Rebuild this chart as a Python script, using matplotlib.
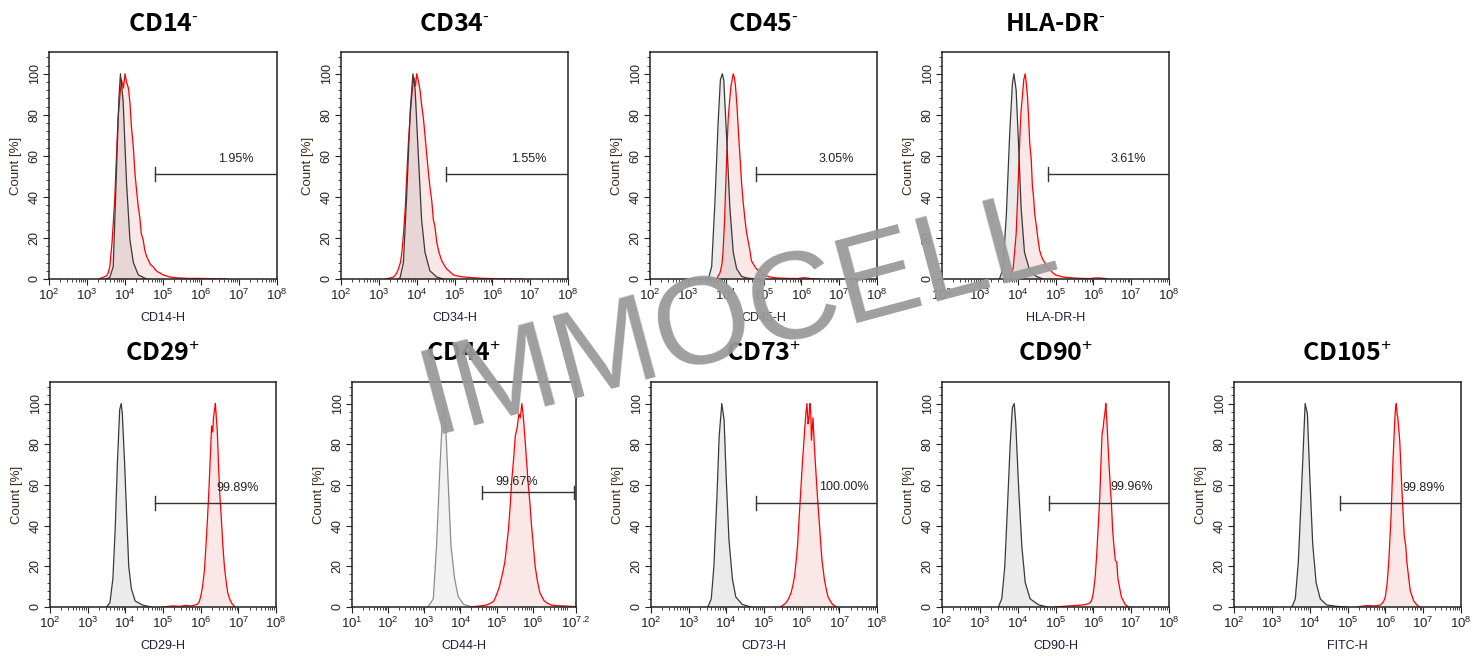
import numpy as np
import matplotlib
matplotlib.use('Agg')
import matplotlib.pyplot as plt

plt.rcParams['font.family'] = ['Liberation Sans', 'DejaVu Sans']
plt.rcParams['mathtext.fontset'] = 'custom'
plt.rcParams['mathtext.rm'] = 'Liberation Sans'
plt.rcParams['mathtext.it'] = 'Liberation Sans'
plt.rcParams['mathtext.bf'] = 'Liberation Sans:bold'

# ---------------------------------------------------------------- data
# x values are log10 of the fluorescence channel, y values are Count [%]
titles = [r'CD14$^{\text{-}}$', r'CD34$^{\text{-}}$', r'CD45$^{\text{-}}$', r'HLA-DR$^{\text{-}}$',
          'CD29$^{+}$', 'CD44$^{+}$', 'CD73$^{+}$', 'CD90$^{+}$', 'CD105$^{+}$']
xlabels = ['CD14-H', 'CD34-H', 'CD45-H', 'HLA-DR-H',
           'CD29-H', 'CD44-H', 'CD73-H', 'CD90-H', 'FITC-H']
pct_labels = ['1.95%', '1.55%', '3.05%', '3.61%',
              '99.89%', '99.67%', '100.00%', '99.96%', '99.89%']
gate_start = [4.8, 4.77, 4.81, 4.8, 4.79, 4.59, 4.79, 4.82, 4.8]
gate_level = [51, 51, 51, 51, 51, 56.3, 51, 51, 51]
pct_x = [6.91, 6.95, 6.92, 6.93, 6.99, 5.55, 7.11, 7.02, 7.0]
pct_y = [58.5, 58.5, 58.5, 58.5, 58.4, 61.5, 58.9, 58.9, 58.3]

cd14_ctrl_x = [3.50, 3.60, 3.69, 3.78, 3.84, 3.88, 3.95, 4.04, 4.13, 4.22, 4.35, 4.57]
cd14_ctrl_y = [0, 0.8, 6, 55, 88, 100, 87, 47, 19, 8, 2, 0]
cd14_stain_x = [3.30, 3.42, 3.51, 3.56, 3.60, 3.66, 3.73, 3.78, 3.82, 3.87, 3.91, 3.96, 4.00, 4.04,
                4.09, 4.13, 4.17, 4.22, 4.26, 4.30, 4.35, 4.39, 4.43, 4.48, 4.52, 4.57, 4.62, 4.67,
                4.74, 4.80, 4.86, 4.92, 5.00, 5.08, 5.18, 5.35, 5.62, 5.90, 6.20, 6.40, 6.70]
cd14_stain_y = [0, 0.8, 1.5, 3, 6, 18, 39, 62, 79, 90, 97, 93, 100, 96,
                93, 86, 74, 64, 52, 44, 35, 30, 22, 19, 14, 11, 9, 7,
                6, 4.5, 3.5, 3, 2, 1.6, 1, 0.6, 0.3, 0.3, 0.2, 0.1, 0]

cd34_ctrl_x = [3.50, 3.56, 3.65, 3.74, 3.83, 3.90, 3.96, 4.05, 4.13, 4.22, 4.35, 4.53, 4.70]
cd34_ctrl_y = [0, 0.5, 8, 42, 82, 100, 92, 58, 29, 13, 4, 1, 0]
cd34_stain_x = [3.17, 3.30, 3.39, 3.46, 3.52, 3.57, 3.61, 3.66, 3.70, 3.74, 3.78, 3.83, 3.87, 3.90,
                3.93, 3.97, 4.00, 4.04, 4.09, 4.13, 4.18, 4.22, 4.27, 4.31, 4.35, 4.40, 4.44, 4.48,
                4.53, 4.59, 4.66, 4.72, 4.79, 4.88, 4.97, 5.10, 5.23, 5.50, 5.76, 6.20, 6.80]
cd34_stain_y = [0, 0.5, 1, 2.5, 5, 8, 13, 24, 35, 51, 66, 80, 89, 95,
                98, 94, 100, 97, 92, 85, 78, 70, 60, 52, 45, 38, 29, 26,
                18, 13, 9, 7, 5, 3.5, 2, 1.4, 1, 0.6, 0.3, 0.15, 0]

cd45_ctrl_x = [3.54, 3.63, 3.72, 3.80, 3.86, 3.91, 3.95, 4.02, 4.11, 4.20, 4.29, 4.42, 4.55, 4.80]
cd45_ctrl_y = [0, 6, 39, 76, 97, 100, 97, 71, 35, 13, 5, 1.3, 0.5, 0]
cd45_stain_x = [3.76, 3.85, 3.90, 3.93, 3.97, 4.00, 4.04, 4.07, 4.11, 4.14, 4.17, 4.20, 4.23, 4.26,
                4.30, 4.33, 4.37, 4.42, 4.46, 4.51, 4.55, 4.60, 4.64, 4.68, 4.74, 4.81, 4.88, 4.92,
                4.99, 5.08, 5.17, 5.35, 5.61, 5.90, 6.05, 6.13, 6.22, 6.35, 6.49]
cd45_stain_y = [0, 3, 7, 13, 28, 45, 66, 79, 88, 94, 97, 100, 98, 94,
                84, 74, 62, 47, 38, 29, 23, 18, 14, 9, 7, 5, 4, 4.5,
                2, 1.5, 1, 0.5, 0.3, 0.2, 0.6, 0.5, 0.3, 0.1, 0]

hla_ctrl_x = [3.52, 3.61, 3.70, 3.79, 3.86, 3.90, 3.96, 4.03, 4.09, 4.18, 4.32, 4.49, 4.67]
hla_ctrl_y = [0, 5, 31, 71, 95, 100, 92, 63, 35, 13, 4, 1.3, 0]
hla_stain_x = [3.79, 3.88, 3.96, 4.00, 4.03, 4.06, 4.09, 4.13, 4.16, 4.20, 4.23, 4.26, 4.29, 4.32,
               4.36, 4.39, 4.42, 4.45, 4.50, 4.54, 4.58, 4.63, 4.68, 4.72, 4.76, 4.82, 4.88, 4.93,
               5.00, 5.10, 5.19, 5.40, 5.64, 5.90, 6.05, 6.17, 6.28, 6.39]
hla_stain_y = [0, 5, 22, 40, 55, 70, 82, 90, 97, 100, 95, 89, 78, 66,
               58, 45, 40, 32, 25, 19, 14, 11, 9, 8, 6, 5, 4, 3,
               2, 1.5, 1, 0.6, 0.3, 0.2, 0.5, 0.5, 0.3, 0]

cd29_ctrl_x = [3.50, 3.59, 3.67, 3.73, 3.79, 3.85, 3.89, 3.92, 3.98, 4.04, 4.09, 4.16, 4.26, 4.45, 4.68]
cd29_ctrl_y = [0, 2, 14, 38, 71, 97, 100, 95, 71, 43, 20, 9, 3, 1, 0]
cd29_stain_x = [4.97, 5.25, 5.45, 5.60, 5.73, 5.85, 5.91, 5.96, 6.00, 6.05, 6.10, 6.14, 6.18, 6.22,
                6.25, 6.29, 6.32, 6.34, 6.37, 6.39, 6.42, 6.44, 6.48, 6.51, 6.55, 6.59, 6.63, 6.68,
                6.72, 6.77, 6.82, 6.91]
cd29_stain_y = [0, 0.5, 0.3, 0.8, 0.5, 1.0, 1.3, 2.5, 5, 10, 18, 30, 43, 58,
                71, 89, 86, 93, 97, 100, 92, 87, 67, 55, 43, 30, 20, 12,
                7, 4, 2, 0]

cd44_ctrl_x = [3.10, 3.25, 3.34, 3.44, 3.50, 3.54, 3.59, 3.66, 3.74, 3.84, 3.94, 4.09, 4.33]
cd44_ctrl_y = [0, 4, 30, 71, 92, 100, 90, 62, 30, 14, 5, 1.3, 0]
cd44_stain_x = [4.23, 4.50, 4.73, 4.85, 4.93, 5.00, 5.08, 5.16, 5.23, 5.28, 5.33, 5.38, 5.42, 5.47,
                5.52, 5.57, 5.62, 5.66, 5.70, 5.74, 5.77, 5.82, 5.87, 5.92, 5.97, 6.02, 6.07, 6.13,
                6.20, 6.26, 6.32, 6.40, 6.51, 6.70, 6.90, 7.05, 7.20]
cd44_stain_y = [0, 0.4, 1, 2, 3, 6, 10, 16, 22, 30, 38, 50, 62, 72,
                84, 88, 95, 93, 100, 94, 87, 75, 62, 52, 40, 30, 20, 13,
                7, 5, 3, 2, 1, 0.6, 0.5, 0.3, 0.2]

cd73_ctrl_x = [3.51, 3.60, 3.67, 3.75, 3.81, 3.88, 3.94, 4.00, 4.07, 4.16, 4.25, 4.42, 4.65]
cd73_ctrl_y = [0, 4, 20, 54, 84, 100, 92, 62, 33, 14, 5, 1.3, 0]
cd73_stain_x = [5.44, 5.58, 5.65, 5.72, 5.77, 5.81, 5.85, 5.89, 5.95, 6.02, 6.08, 6.11, 6.14, 6.17,
                6.19, 6.22, 6.24, 6.26, 6.30, 6.35, 6.39, 6.42, 6.47, 6.50, 6.54, 6.60, 6.65, 6.70,
                6.76, 6.82, 6.93]
cd73_stain_y = [0, 2, 4, 7, 11, 15, 22, 30, 49, 71, 87, 95, 100, 90,
                92, 100, 97, 82, 93, 75, 63, 54, 41, 33, 23, 14, 9, 5,
                3, 1.3, 0]

cd90_ctrl_x = [3.49, 3.58, 3.66, 3.73, 3.80, 3.86, 3.91, 3.95, 4.03, 4.11, 4.20, 4.33, 4.56, 4.79]
cd90_ctrl_y = [0, 4, 20, 49, 79, 98, 100, 90, 57, 30, 12, 4, 1, 0]
cd90_stain_x = [4.98, 5.35, 5.55, 5.72, 5.85, 5.91, 5.96, 6.00, 6.05, 6.09, 6.13, 6.17, 6.20, 6.23,
                6.26, 6.28, 6.31, 6.33, 6.37, 6.40, 6.44, 6.48, 6.51, 6.54, 6.58, 6.62, 6.65, 6.70,
                6.74, 6.84, 6.93]
cd90_stain_y = [0, 0.5, 0.8, 1, 1.5, 2, 3.5, 7, 15, 26, 40, 54, 70, 85,
                88, 92, 96, 100, 87, 75, 62, 50, 38, 31, 23, 22, 14, 9,
                5, 1.3, 0]

cd105_ctrl_x = [3.53, 3.62, 3.70, 3.77, 3.84, 3.88, 3.94, 4.01, 4.08, 4.17, 4.28, 4.45, 4.72, 4.98]
cd105_ctrl_y = [0, 4, 22, 51, 82, 100, 95, 61, 31, 12, 4, 1, 0.3, 0]
cd105_stain_x = [5.25, 5.51, 5.70, 5.87, 5.95, 6.00, 6.05, 6.09, 6.12, 6.15, 6.20, 6.25, 6.27, 6.29,
                 6.31, 6.33, 6.38, 6.44, 6.50, 6.54, 6.57, 6.62, 6.66, 6.75, 6.85, 6.92]
cd105_stain_y = [0, 0.7, 0.5, 1, 2.5, 5, 12, 22, 33, 44, 71, 92, 98, 100,
                 95, 93, 82, 57, 35, 30, 22, 14, 8, 3, 0.7, 0]

curves = [
    (cd14_ctrl_x, cd14_ctrl_y, cd14_stain_x, cd14_stain_y),
    (cd34_ctrl_x, cd34_ctrl_y, cd34_stain_x, cd34_stain_y),
    (cd45_ctrl_x, cd45_ctrl_y, cd45_stain_x, cd45_stain_y),
    (hla_ctrl_x, hla_ctrl_y, hla_stain_x, hla_stain_y),
    (cd29_ctrl_x, cd29_ctrl_y, cd29_stain_x, cd29_stain_y),
    (cd44_ctrl_x, cd44_ctrl_y, cd44_stain_x, cd44_stain_y),
    (cd73_ctrl_x, cd73_ctrl_y, cd73_stain_x, cd73_stain_y),
    (cd90_ctrl_x, cd90_ctrl_y, cd90_stain_x, cd90_stain_y),
    (cd105_ctrl_x, cd105_ctrl_y, cd105_stain_x, cd105_stain_y),
]

# ---------------------------------------------------------------- layout
W, H = 1476, 656
# (left, right, top, bottom) in pixels
boxes = [(49, 277, 52, 279), (341, 568, 52, 279), (650, 877, 52, 279), (942, 1169, 52, 279),
         (50, 276, 382, 607), (352, 576, 382, 607), (651, 877, 382, 607),
         (942, 1169, 382, 607), (1234, 1461, 382, 607)]

fig = plt.figure(figsize=(W / 100, H / 100), dpi=100)
fig.patch.set_facecolor('white')

for i, (l, r, t, b) in enumerate(boxes):
    ax = fig.add_axes([l / W, 1 - b / H, (r - l) / W, (b - t) / H])
    cx, cy, sx, sy = curves[i]

    if i == 5:
        xmin, xmax = 1, 7.2
        major = [1, 2, 3, 4, 5, 6, 7.2]
        ctrl_line, ctrl_fill = '#8c8c8c', (0.6, 0.6, 0.6, 0.12)
    else:
        xmin, xmax = 2, 8
        major = [2, 3, 4, 5, 6, 7, 8]
        ctrl_line, ctrl_fill = '#3a3a3a', (0.45, 0.45, 0.45, 0.14)

    ax.fill_between(cx, cy, 0, color=ctrl_fill, lw=0)
    ax.fill_between(sx, sy, 0, color=(0.85, 0.3, 0.3, 0.13), lw=0)
    ax.plot(sx, sy, color='#ff0000', lw=0.9)
    ax.plot(cx, cy, color=ctrl_line, lw=0.9)

    # gate marker
    g0, gy = gate_start[i], gate_level[i]
    g1 = 7.15 if i == 5 else xmax
    ax.plot([g0, g1], [gy, gy], color='#333333', lw=1.0)
    ax.plot([g0, g0], [gy - 3.4, gy + 3.4], color='#333333', lw=1.0)
    if i == 5:
        ax.plot([g1, g1], [gy - 3.4, gy + 3.4], color='#333333', lw=1.0)
    ax.text(pct_x[i], pct_y[i], pct_labels[i], ha='center', va='center',
            fontsize=9, color='#222222')

    ax.set_xlim(xmin, xmax)
    ax.set_ylim(0, 110.6)
    ax.set_xticks(major)
    ax.set_xticklabels(['$10^{%g}$' % m for m in major])
    minor = [k + np.log10(m) for k in range(int(xmin), int(np.ceil(xmax)))
             for m in range(2, 10) if k + np.log10(m) < xmax]
    ax.set_xticks(minor, minor=True)
    ax.set_yticks([0, 20, 40, 60, 80, 100])
    ax.set_yticks(np.arange(0, 110, 4), minor=True)

    ax.tick_params(which='major', direction='out', length=4, width=0.8,
                   labelsize=9.5, colors='#222222', pad=2)
    ax.tick_params(axis='y', labelsize=9)
    ax.tick_params(which='minor', direction='out', length=2, width=0.6, colors='#222222')
    ax.tick_params(axis='y', labelrotation=90)
    for lab in ax.get_yticklabels():
        lab.set_va('center')

    for s in ax.spines.values():
        s.set_color('#222222')
        s.set_linewidth(1.1)

    ax.set_xlabel(xlabels[i], fontsize=9, color='#1e1e3c', labelpad=7)
    ax.set_ylabel('Count [%]', fontsize=9.5, color='#3c2a1a', labelpad=5)
    ax.set_title(titles[i], fontsize=18, fontweight='bold',
                 family=['Noto Sans CJK SC', 'DejaVu Sans'], pad=15)

fig.text(0.5, 0.515, 'IMMOCELL', rotation=15, fontsize=90, color='#9a9a9a',
         alpha=0.95, ha='center', va='center', zorder=10)

fig.savefig('out.png', dpi=100)
